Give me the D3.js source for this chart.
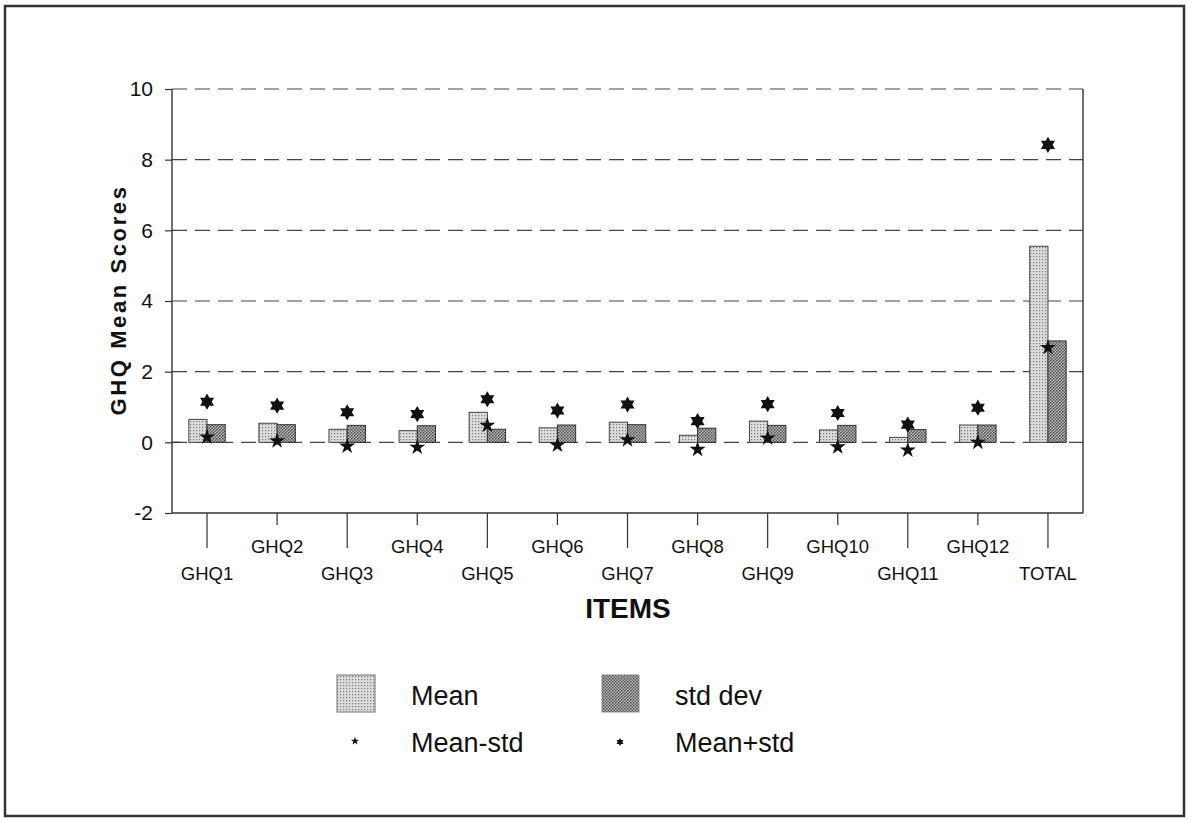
<!DOCTYPE html>
<html>
<head>
<meta charset="utf-8">
<script src="https://cdn.jsdelivr.net/npm/d3@7"></script>
<style>
  html, body { margin: 0; padding: 0; background: #fff; }
  svg { display: block; }
  text { font-family: "Liberation Sans", Arial, Helvetica, sans-serif; fill: #111; }
</style>
</head>
<body>
<svg id="chart" width="1192" height="820"></svg>
<script>
// GHQ item scores
const categories = ["GHQ1","GHQ2","GHQ3","GHQ4","GHQ5","GHQ6","GHQ7","GHQ8","GHQ9","GHQ10","GHQ11","GHQ12","TOTAL"];
const meanValues = [0.65, 0.54, 0.37, 0.33, 0.85, 0.41, 0.57, 0.20, 0.60, 0.35, 0.14, 0.49, 5.55];
const stdValues  = [0.50, 0.50, 0.48, 0.47, 0.37, 0.49, 0.50, 0.40, 0.48, 0.48, 0.36, 0.49, 2.87];
const meanMinusStd = [0.15, 0.04, -0.11, -0.14, 0.48, -0.08, 0.07, -0.20, 0.12, -0.13, -0.22, 0.00, 2.68];
const meanPlusStd  = [1.15, 1.04, 0.85, 0.80, 1.22, 0.90, 1.07, 0.60, 1.08, 0.83, 0.50, 0.98, 8.42];
const yTicks = [-2, 0, 2, 4, 6, 8, 10];
const legendItems = ["Mean", "std dev", "Mean-std", "Mean+std"];

const svg = d3.select("#chart");

// fill textures for the two bar series
const defs = svg.append("defs");
const pMean = defs.append("pattern").attr("id", "patMean")
  .attr("patternUnits", "userSpaceOnUse").attr("width", 3).attr("height", 3);
pMean.append("rect").attr("width", 3).attr("height", 3).attr("fill", "#dcdcdc");
pMean.append("rect").attr("x", 1).attr("y", 1).attr("width", 1.2).attr("height", 1.2).attr("fill", "#7a7a7a");

const pStd = defs.append("pattern").attr("id", "patStd")
  .attr("patternUnits", "userSpaceOnUse").attr("width", 3).attr("height", 3);
pStd.append("rect").attr("width", 3).attr("height", 3).attr("fill", "#bdbdbd");
pStd.append("rect").attr("x", 0).attr("y", 0).attr("width", 1.5).attr("height", 1.5).attr("fill", "#4a4a4a");
pStd.append("rect").attr("x", 1.5).attr("y", 1.5).attr("width", 1.5).attr("height", 1.5).attr("fill", "#5a5a5a");

// outer frame
svg.append("rect")
  .attr("x", 5).attr("y", 6).attr("width", 1179).attr("height", 810)
  .attr("fill", "none").attr("stroke", "#333").attr("stroke-width", 2.5);

const plot = { left: 172, right: 1083, top: 89, bottom: 513 };

const x = d3.scaleBand().domain(categories).range([plot.left, plot.right]).padding(0);
const y = d3.scaleLinear().domain([-2, 10]).range([plot.bottom, plot.top]);
const bw = x.bandwidth();
const xSub = d3.scaleBand().domain(["mean", "std"]).range([bw * 0.24, bw * 0.76]);

// dashed grid lines
svg.append("g").selectAll("line")
  .data(yTicks.filter(t => t >= 0))
  .join("line")
  .attr("x1", plot.left).attr("x2", plot.right)
  .attr("y1", d => y(d)).attr("y2", d => y(d))
  .attr("stroke", "#444").attr("stroke-width", 1.2)
  .attr("stroke-dasharray", "15,8");

// left axis
const yAxis = d3.axisLeft(y).tickValues(yTicks).tickSize(7).tickPadding(12).tickFormat(d => String(d));
const gy = svg.append("g").attr("transform", `translate(${plot.left},0)`).call(yAxis);
gy.select(".domain").remove();
gy.selectAll(".tick line").attr("stroke", "#333").attr("stroke-width", 1.2);
gy.selectAll(".tick text").attr("font-size", 21).attr("fill", "#111");
svg.append("line").attr("x1", plot.left).attr("x2", plot.left)
  .attr("y1", plot.top).attr("y2", plot.bottom).attr("stroke", "#333").attr("stroke-width", 1.4);
// zero tick crosses the axis
svg.append("line").attr("x1", plot.left).attr("x2", plot.left + 8)
  .attr("y1", y(0)).attr("y2", y(0)).attr("stroke", "#333").attr("stroke-width", 1.2);

// right and bottom frame of the plot
svg.append("line").attr("x1", plot.right).attr("x2", plot.right)
  .attr("y1", plot.top).attr("y2", plot.bottom).attr("stroke", "#333").attr("stroke-width", 1.4);
svg.append("line").attr("x1", plot.left).attr("x2", plot.right)
  .attr("y1", plot.bottom).attr("y2", plot.bottom).attr("stroke", "#333").attr("stroke-width", 1.4);

// category ticks and staggered labels
const gx = svg.append("g");
categories.forEach((c, i) => {
  const cx = x(c) + bw / 2;
  const low = i % 2 === 0;
  gx.append("line").attr("x1", cx).attr("x2", cx)
    .attr("y1", plot.bottom).attr("y2", plot.bottom + (low ? 35 : 12))
    .attr("stroke", "#333").attr("stroke-width", 1.2);
  gx.append("text").attr("x", cx).attr("y", low ? 580 : 553)
    .attr("text-anchor", "middle").attr("font-size", 18.5).text(c);
});

// bars
const rows = categories.map((c, i) => ({ c, mean: meanValues[i], std: stdValues[i], lo: meanMinusStd[i], hi: meanPlusStd[i] }));
const gb = svg.append("g");
gb.selectAll("rect.mean").data(rows).join("rect").attr("class", "mean")
  .attr("x", d => x(d.c) + xSub("mean")).attr("width", xSub.bandwidth())
  .attr("y", d => y(d.mean)).attr("height", d => y(0) - y(d.mean))
  .attr("fill", "url(#patMean)").attr("stroke", "#444").attr("stroke-width", 1);
gb.selectAll("rect.std").data(rows).join("rect").attr("class", "std")
  .attr("x", d => x(d.c) + xSub("std")).attr("width", xSub.bandwidth())
  .attr("y", d => y(d.std)).attr("height", d => y(0) - y(d.std))
  .attr("fill", "url(#patStd)").attr("stroke", "#333").attr("stroke-width", 1);

// six-pointed star symbol
const symbolStar6 = {
  draw(context, size) {
    const r = Math.sqrt(size / 1.6);
    const ri = r * 0.58;
    for (let k = 0; k < 12; k++) {
      const a = -Math.PI / 2 + k * Math.PI / 6;
      const rr = k % 2 === 0 ? r : ri;
      const px = rr * Math.cos(a), py = rr * Math.sin(a);
      if (k === 0) context.moveTo(px, py); else context.lineTo(px, py);
    }
    context.closePath();
  }
};
const starHi = d3.symbol().type(symbolStar6).size(105);
const starLo = d3.symbol().type(d3.symbolStar).size(80);

const gm = svg.append("g");
gm.selectAll("path.hi").data(rows).join("path").attr("class", "hi")
  .attr("d", starHi)
  .attr("transform", d => `translate(${x(d.c) + bw / 2},${y(d.hi)})`)
  .attr("fill", "#111");
gm.selectAll("path.lo").data(rows).join("path").attr("class", "lo")
  .attr("d", starLo)
  .attr("transform", d => `translate(${x(d.c) + bw / 2},${y(d.lo)})`)
  .attr("fill", "#111");

// axis titles
svg.append("text")
  .attr("transform", "translate(126,300) rotate(-90)")
  .attr("text-anchor", "middle").attr("font-size", 22).attr("font-weight", "bold")
  .attr("letter-spacing", 2.6).text("GHQ Mean Scores");
svg.append("text")
  .attr("x", 628).attr("y", 618).attr("text-anchor", "middle")
  .attr("font-size", 28).attr("font-weight", "bold").text("ITEMS");

// legend
const lg = svg.append("g");
lg.append("rect").attr("x", 337).attr("y", 675).attr("width", 38).attr("height", 37)
  .attr("fill", "url(#patMean)").attr("stroke", "#888").attr("stroke-width", 1.2);
lg.append("rect").attr("x", 602).attr("y", 675).attr("width", 37).attr("height", 37)
  .attr("fill", "url(#patStd)").attr("stroke", "#777").attr("stroke-width", 0.8);
lg.append("path").attr("d", d3.symbol().type(d3.symbolStar).size(22))
  .attr("transform", "translate(355,741)").attr("fill", "#111");
lg.append("path").attr("d", d3.symbol().type(symbolStar6).size(26))
  .attr("transform", "translate(620,742)").attr("fill", "#111");
const legendPos = [[411, 705], [675, 705], [411, 752], [675, 752]];
legendItems.forEach((t, i) => {
  lg.append("text").attr("x", legendPos[i][0]).attr("y", legendPos[i][1])
    .attr("font-size", 27).text(t);
});
</script>
</body>
</html>
